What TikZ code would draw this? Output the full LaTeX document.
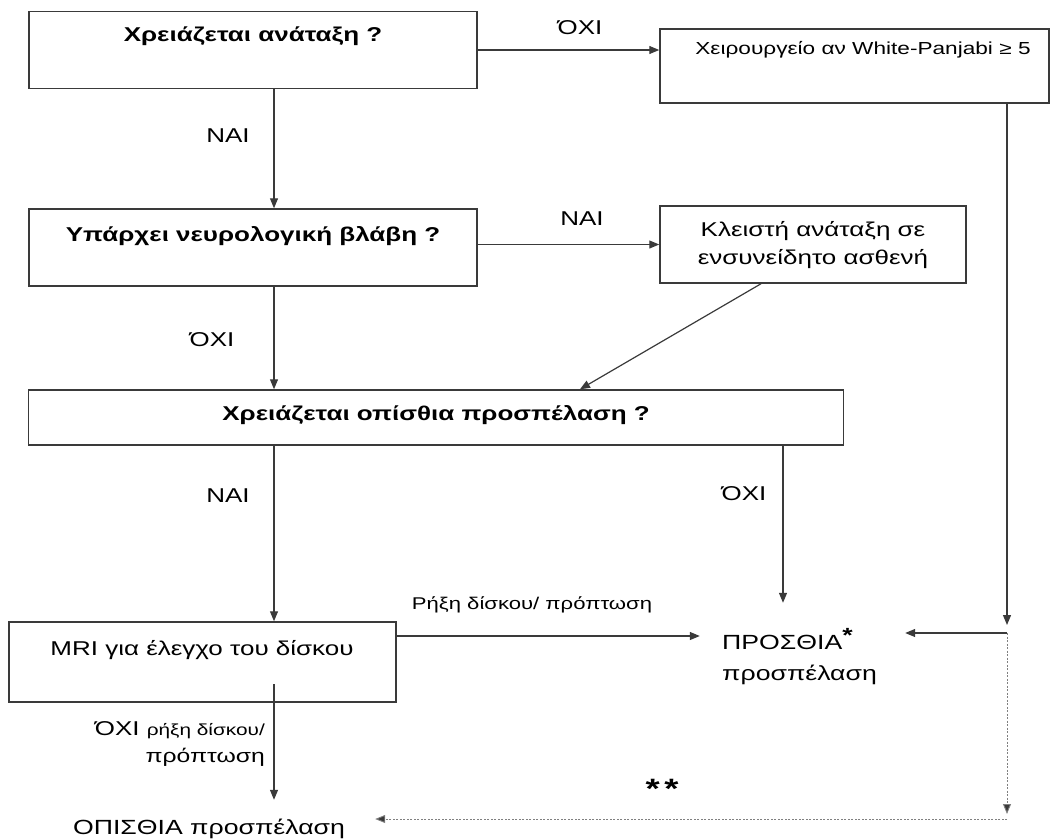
\documentclass[tikz,border=0pt]{standalone}
\usepackage{fontspec}
\setmainfont{Liberation Sans}[FakeStretch=1.3]
\usetikzlibrary{arrows.meta,calc}
\definecolor{linec}{HTML}{3A3A3A}
\tikzset{
  boxnode/.style={draw=linec, line width=1.5pt, inner sep=0pt},
  txt/.style={inner sep=0pt, anchor=base, font=\fontsize{20}{24}\selectfont},
  btxt/.style={txt, font=\fontsize{20}{24}\selectfont\bfseries},
  small/.style={txt, font=\fontsize{17}{20}\selectfont},
  ghost/.style={inner sep=0pt, draw=none},
  conn/.style={draw=linec, line width=1.2pt, -{Triangle[length=10pt,width=8pt]}},
  dotconn/.style={draw=gray, line width=0.9pt, dash pattern=on 2pt off 1.5pt, -{Triangle[length=10pt,width=8pt,fill=linec]}}
}
\begin{document}
\begin{tikzpicture}[x=1pt,y=-1pt]
\useasboundingbox (0,0) rectangle (1052,838);
% column / level coordinates
\coordinate (cx) at (274,0);
\coordinate (c761) at (761,0);
\coordinate (c580) at (580,0);
\coordinate (c783) at (783,0);
\coordinate (c636) at (0,636);
\coordinate (m6) at (274,684);
\coordinate (j1) at (1007,625);
\coordinate (j2) at (1007,633);
\coordinate (j3) at (1007,814);
\coordinate (j4) at (1007,819);
% boxes
\node[boxnode, minimum width=448pt, minimum height=77pt] (b1) at (253,50) {};
\node[boxnode, minimum width=389pt, minimum height=74pt] (b2) at (854.5,66) {};
\node[boxnode, minimum width=448pt, minimum height=77pt] (b3) at (253,247.5) {};
\node[boxnode, minimum width=306pt, minimum height=77pt] (b4) at (813,244.5) {};
\node[boxnode, minimum width=815pt, minimum height=55pt] (b5) at (436,417.5) {};
\node[boxnode, minimum width=387pt, minimum height=80pt] (b6) at (202.5,662) {};
% box texts
\node[btxt] (t1) at (253,41) {Χρειάζεται ανάταξη ?};
\node[txt, font=\fontsize{17.4}{21}\selectfont] (t2) at (863,54) {Χειρουργείο αν White-Panjabi ≥ 5};
\node[btxt] (t3) at (253,241) {Υπάρχει νευρολογική βλάβη ?};
\node[txt] (t4a) at (813,236) {Κλειστή ανάταξη σε};
\node[txt] (t4b) at (813,264) {ενσυνείδητο ασθενή};
\node[btxt] (t5) at (436,420) {Χρειάζεται οπίσθια προσπέλαση ?};
\node[txt] (t6) at (202,655) {MRI για έλεγχο του δίσκου};
% end targets
\node[ghost, minimum width=205pt, minimum height=87pt] (pro) at (802.5,646.5) {};
\node[txt, anchor=base west, font=\fontsize{20.5}{24}\selectfont] (pro1) at (722,649) {ΠΡΟΣΘΙΑ\raisebox{7pt}{\bfseries *}};
\node[txt, anchor=base west, font=\fontsize{20.5}{24}\selectfont] (pro2) at (722,680) {προσπέλαση};
\node[ghost, minimum width=310pt, minimum height=38pt] (opis) at (220,819) {};
\node[txt, font=\fontsize{20.5}{24}\selectfont] (opist) at (209,834) {ΟΠΙΣΘΙΑ προσπέλαση};
% labels
\node[txt] (l1) at (580,34) {ΌΧΙ};
\node[txt] (l2) at (228,142) {ΝΑΙ};
\node[txt] (l3) at (582,225) {ΝΑΙ};
\node[txt] (l4) at (212,346) {ΌΧΙ};
\node[txt] (l5) at (228,502) {ΝΑΙ};
\node[txt] (l6) at (744,500) {ΌΧΙ};
\node[small] (l7) at (532,609) {Ρήξη δίσκου/ πρόπτωση};
\node[txt, anchor=base east] (l8) at (265,735) {ΌΧΙ {\fontsize{16}{19}\selectfont ρήξη δίσκου/}};
\node[txt, anchor=base east, font=\fontsize{19}{22}\selectfont] (l9) at (265,762) {πρόπτωση};
\node[txt, font=\fontsize{28}{32}\selectfont\bfseries] (l10) at (662,798) {*\,*};
% connectors
\draw[conn] (b1.east) -- (b2.west |- b1.east);
\draw[conn] (b1.south -| cx) -- (b3.north -| cx);
\draw[conn] (b3.east |- b4.west) -- (b4.west);
\draw[conn] (b4.south -| c761) -- (b5.north -| c580);
\draw[conn] (b3.south -| cx) -- (b5.north -| cx);
\draw[conn] (b5.south -| cx) -- (b6.north -| cx);
\draw[conn] (b5.south -| c783) -- (pro.north -| c783);
\draw[conn] (b6.east |- c636) -- (pro.west |- c636);
\draw[conn] (m6) -- (opis.north -| m6);
\draw[conn] (b2.south -| j1) -- (j1);
\draw[conn] (j2) -- (pro.east |- j2);
\draw[dotconn] (j2) -- (j3);
\draw[dotconn] (j4) -- (opis.east |- j4);
\end{tikzpicture}
\end{document}
